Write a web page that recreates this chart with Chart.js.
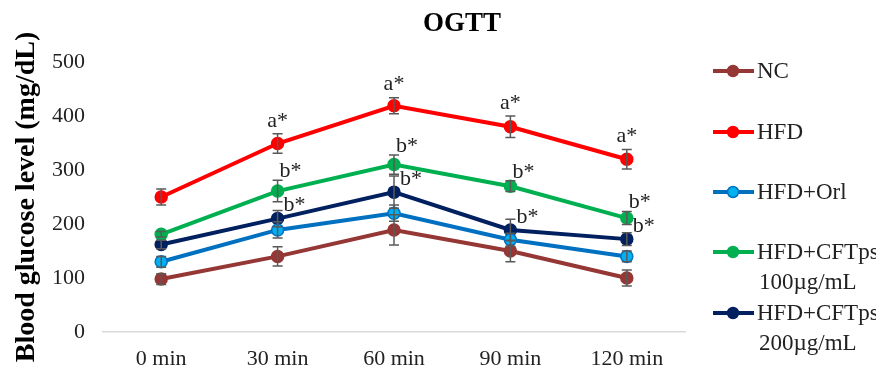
<!DOCTYPE html>
<html>
<head>
<meta charset="utf-8">
<script src="https://cdn.jsdelivr.net/npm/chart.js@4"></script>
<style>
html,body{margin:0;padding:0;background:#fff}
#wrap{width:876px;height:370px}
</style>
</head>
<body>
<div id="wrap"><canvas id="c" width="876" height="370"></canvas></div>
<script>
var times=['0 min','30 min','60 min','90 min','120 min'];
var groups=['NC','HFD','HFD+Orl','HFD+CFTps 100µg/mL','HFD+CFTps 200µg/mL'];
var nc=[98,140,189,150,100];
var hfd=[250,349,419,380,320];
var orl=[130,189,220,171,140];
var cft100=[181,261,310,270,211];
var cft200=[162,210,259,189,172];
var ncErr=[10,18,28,20,15];
var hfdErr=[15,18,15,20,18];
var orlErr=[10,15,15,12,10];
var cft100Err=[5,20,18,10,12];
var cft200Err=[8,15,30,20,12];
var hfdSig=['','a*','a*','a*','a*'];
var cft100Sig=['','b*','b*','b*','b*'];
var cft200Sig=['','b*','b*','b*','b*'];

var serif='"Liberation Serif","Times New Roman",serif';
function ds(label,data,err,sig,line,fill){
  return {label:label,data:data,err:err,sig:sig,borderColor:line,backgroundColor:fill,
    pointBackgroundColor:fill,pointBorderColor:line,pointBorderWidth:1.5,
    borderWidth:4,pointRadius:6,pointHoverRadius:6,tension:0};
}
var sets=[
  ds(groups[0],nc,ncErr,null,'#953735','#953735'),
  ds(groups[1],hfd,hfdErr,hfdSig,'#ff0000','#ff0000'),
  ds(groups[2],orl,orlErr,null,'#0070c0','#00b0f0'),
  ds(groups[3],cft100,cft100Err,cft100Sig,'#00b050','#00b050'),
  ds(groups[4],cft200,cft200Err,cft200Sig,'#002060','#002060')
];

var extras={
  id:'extras',
  afterDatasetsDraw:function(ch){
    var ctx=ch.ctx,y=ch.scales.y;
    ctx.save();
    ctx.strokeStyle='#595959';ctx.lineWidth=1.5;
    ch.data.datasets.forEach(function(d,di){
      var meta=ch.getDatasetMeta(di);
      d.data.forEach(function(v,i){
        var x=meta.data[i].x,t=y.getPixelForValue(v+d.err[i]),b=y.getPixelForValue(v-d.err[i]);
        ctx.beginPath();
        ctx.moveTo(x,t);ctx.lineTo(x,b);
        ctx.moveTo(x-5,t);ctx.lineTo(x+5,t);
        ctx.moveTo(x-5,b);ctx.lineTo(x+5,b);
        ctx.stroke();
      });
    });
    ctx.fillStyle='#222';ctx.font='22px '+serif;ctx.textBaseline='bottom';
    ch.data.datasets.forEach(function(d,di){
      if(!d.sig)return;
      var meta=ch.getDatasetMeta(di);
      d.data.forEach(function(v,i){
        if(!d.sig[i])return;
        var x=meta.data[i].x,py=meta.data[i].y,t=y.getPixelForValue(v+d.err[i]);
        if(di===1){ctx.textAlign='center';ctx.fillText(d.sig[i],x,t-2);}
        else if(di===3){ctx.textAlign='left';ctx.fillText(d.sig[i],x+2,t+2);}
        else{ctx.textAlign='left';ctx.fillText(d.sig[i],x+6,py-2);}
      });
    });
    ctx.restore();
  },
  afterDraw:function(ch){
    var ctx=ch.ctx;
    ctx.save();
    ctx.fillStyle='#000';ctx.font='bold 27px '+serif;ctx.textAlign='center';ctx.textBaseline='middle';
    ctx.fillText('OGTT',462,24);
    var ly=[71,132,192,252,313];
    ctx.font='23px '+serif;ctx.textAlign='left';
    ch.data.datasets.forEach(function(d,i){
      var yy=ly[i];
      ctx.strokeStyle=d.borderColor;ctx.lineWidth=4;
      ctx.beginPath();ctx.moveTo(713,yy);ctx.lineTo(754,yy);ctx.stroke();
      ctx.beginPath();ctx.arc(733,yy,5.5,0,Math.PI*2);
      ctx.fillStyle=d.pointBackgroundColor;ctx.fill();
      ctx.lineWidth=1.5;ctx.strokeStyle=d.pointBorderColor;ctx.stroke();
      ctx.fillStyle='#222';
      var parts=d.label.split(' ');
      ctx.fillText(parts[0],757,yy+1);
      if(parts[1])ctx.fillText(parts[1],759,yy+31);
    });
    ctx.restore();
  }
};

new Chart(document.getElementById('c').getContext('2d'),{
  type:'line',
  data:{labels:times,datasets:sets},
  options:{
    responsive:false,animation:false,
    layout:{padding:{top:62,right:191,left:0,bottom:0}},
    plugins:{legend:{display:false},tooltip:{enabled:false},title:{display:false}},
    scales:{
      x:{offset:true,
        grid:{display:false,drawTicks:false},
        border:{display:true,color:'#d9d9d9',width:1.5},
        ticks:{color:'#222',font:{family:serif,size:22},padding:14},
        afterFit:function(s){s.height=38;}
      },
      y:{min:0,max:500,
        grid:{display:false,drawTicks:false},
        border:{display:false},
        ticks:{stepSize:100,color:'#222',font:{family:serif,size:22},padding:18},
        title:{display:true,text:'Blood glucose level (mg/dL)',color:'#000',font:{family:serif,size:28,weight:'bold'},padding:{top:10,bottom:4}},
        afterFit:function(s){s.width=103;}
      }
    }
  },
  plugins:[extras]
});
</script>
</body>
</html>
